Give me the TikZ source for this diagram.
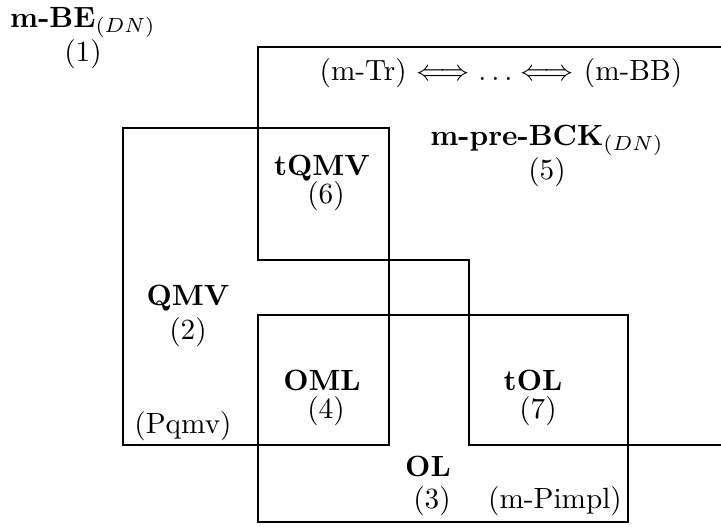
\documentclass[tikz,border=0pt]{standalone}
\begin{document}
\begin{tikzpicture}[x=0.3571pt,y=-0.3571pt,
  frame/.style={draw=black,line width=0.4pt},
  lbl/.style={anchor=base,inner sep=0pt,outer sep=0pt,scale=1.045,transform shape}]
\useasboundingbox (0,0) rectangle (721,527);
\begin{scope}
\clip (0,0) rectangle (721,527);
% m-pre-BCK region (polygon extending beyond the right edge)
\draw[frame] (258,47) -- (258,260) -- (469,260) -- (469,445) -- (740,445) -- (740,47) -- cycle;
% QMV rectangle
\draw[frame] (123,128) rectangle (389,445);
% OL rectangle
\draw[frame] (258,315) rectangle (628,522);
\end{scope}
% labels
\node[lbl] (mbe) at (83,27) {\textbf{m-BE}$_{(DN)}$};
\node[lbl] (n1) at (83,61) {(1)};
\node[lbl] (chain) at (501,80) {(m-Tr) $\Longleftrightarrow \ldots \Longleftrightarrow$ (m-BB)};
\node[lbl] (mpre) at (547,145) {\textbf{m-pre-BCK}$_{(DN)}$};
\node[lbl] (n5) at (547,179) {(5)};
\node[lbl] (tqmv) at (322,175) {\textbf{tQMV}};
\node[lbl] (n6) at (326,203) {(6)};
\node[lbl] (qmv) at (188,305) {\textbf{QMV}};
\node[lbl] (n2) at (188,339) {(2)};
\node[lbl] (oml) at (322,390) {\textbf{OML}};
\node[lbl] (n4) at (326,418) {(4)};
\node[lbl] (tol) at (533,390) {\textbf{tOL}};
\node[lbl] (n7) at (538,418) {(7)};
\node[lbl] (pqmv) at (183,433) {(Pqmv)};
\node[lbl] (ol) at (428,476) {\textbf{OL}};
\node[lbl] (n3) at (432,508) {(3)};
\node[lbl] (mpimpl) at (555,508) {(m-Pimpl)};
\end{tikzpicture}
\end{document}
